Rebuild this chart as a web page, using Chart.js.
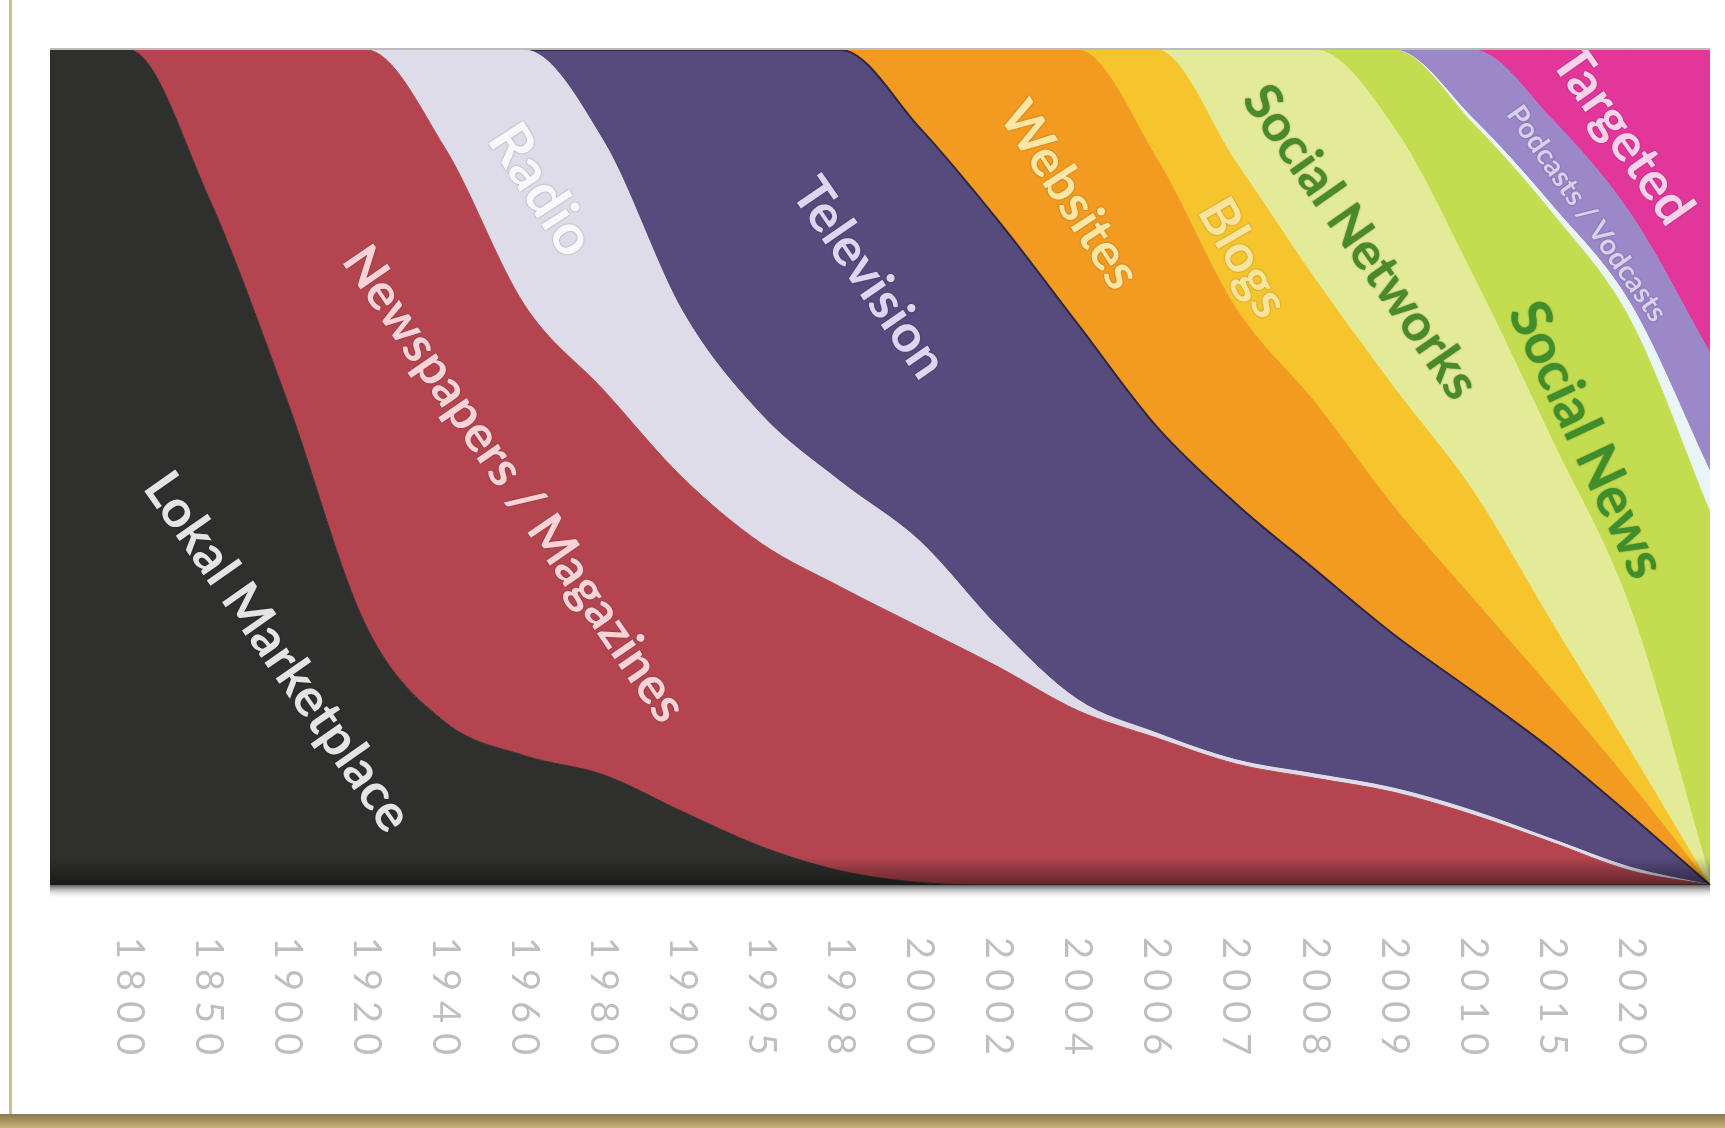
<!DOCTYPE html>
<html>
<head>
<meta charset="utf-8">
<title>Media over time</title>
<script src="https://cdn.jsdelivr.net/npm/chart.js@4.4.0/dist/chart.umd.min.js"></script>
<style>
  html, body { margin: 0; padding: 0; background: #fff; }
  canvas { display: block; }
</style>
</head>
<body>
<canvas id="mediaChart" width="1725" height="1128"></canvas>
<script>
//
// chart data (share in %, stacked). blank categories are the left / right edge of the plot
//
const years = ['', '1800', '1850', '1900', '1920', '1940', '1960', '1980', '1990', '1995', '1998',
  '2000', '2002', '2004', '2006', '2007', '2008', '2009', '2010', '2015', '2020', ''];

const lokalMarketplace = [100, 100, 82.5, 58, 31, 19.5, 15.5, 13.2, 8.8, 4.6, 1.7, 0.3, 0, 0, 0, 0, 0, 0, 0, 0, 0, 0];
const newspapers       = [0, 0, 17.5, 42, 69, 68.7, 54, 46.1, 40, 36.3, 34, 30.6, 26.1, 20.9, 17.6, 14.5, 12.8, 11.1, 8.4, 5.1, 1.7, 0];
const radio            = [0, 0, 0, 0, 0, 11.8, 30.5, 29.8, 19.9, 15.4, 12.6, 10.3, 4.7, 1.3, 0.6, 0.5, 0.5, 0.5, 0.5, 0.4, 0.4, 0];
const television       = [0, 0, 0, 0, 0, 0, 0, 10.9, 31.3, 43.7, 51.7, 49.5, 48.7, 45.0, 36.7, 30.7, 24.5, 18.4, 14.3, 10.7, 6.2, 0];
const websites         = [0, 0, 0, 0, 0, 0, 0, 0, 0, 0, 0, 9.3, 20.5, 32.8, 32.1, 23.4, 20.0, 15.3, 11.1, 7.2, 3.8, 0];
const blogs            = [0, 0, 0, 0, 0, 0, 0, 0, 0, 0, 0, 0, 0, 0, 13, 17.5, 14.8, 14.3, 12.9, 8.0, 3.8, 0];
const socialNetworks   = [0, 0, 0, 0, 0, 0, 0, 0, 0, 0, 0, 0, 0, 0, 0, 13.4, 27.4, 31.1, 25.8, 21.9, 17.0, 0.7];
const socialNews       = [0, 0, 0, 0, 0, 0, 0, 0, 0, 0, 0, 0, 0, 0, 0, 0, 0, 9.3, 18.2, 27.2, 34.6, 43.9];
const otherBand        = [0, 0, 0, 0, 0, 0, 0, 0, 0, 0, 0, 0, 0, 0, 0, 0, 0, 0, 0.6, 0.9, 2.0, 4.9];
const podcasts         = [0, 0, 0, 0, 0, 0, 0, 0, 0, 0, 0, 0, 0, 0, 0, 0, 0, 0, 8.2, 10.3, 10.8, 14.2];
const targeted         = [0, 0, 0, 0, 0, 0, 0, 0, 0, 0, 0, 0, 0, 0, 0, 0, 0, 0, 0, 8.3, 19.7, 36.3];

//
// names written across the bands (x = category index, y = %)
//
const bandNames = [
  {text: 'Lokal Marketplace',      x: 2.88,  y: 27.9, len: 425, angle: 55,   color: '#e4e4e4'},
  {text: 'Newspapers / Magazines', x: 5.87,  y: 48.0, len: 565, angle: 55.5, color: '#f9d3d7'},
  {text: 'Radio',                  x: 6.21,  y: 83.2, len: 145, angle: 57,   color: '#f7f7fc'},
  {text: 'Television',             x: 10.36, y: 72.7, len: 230, angle: 55.5, color: '#ddd5f2'},
  {text: 'Websites',               x: 12.9,  y: 82.6, len: 212, angle: 57,   color: '#fbe6a4'},
  {text: 'Blogs',                  x: 15.09, y: 75.1, len: 128, angle: 60,   color: '#f8e49c'},
  {text: 'Social Networks',        x: 16.58, y: 77.0, len: 370, angle: 55,   color: '#4b8a2b'},
  {text: 'Social News',            x: 19.44, y: 53.3, len: 298, angle: 65,   color: '#3f8e2b'},
  {text: 'Podcasts / Vodcasts',    x: 19.44, y: 80.4, len: 256, angle: 55,   color: '#d8cff1'},
  {text: 'Targeted',               x: 19.89, y: 89.8, len: 205, angle: 55,   color: '#fad3ea'}
];

function band(label, data, color, fill, border) {
  return {
    label: label,
    data: data,
    backgroundColor: color,
    borderColor: border || color,
    borderWidth: border ? 2 : 1,
    fill: fill,
    pointRadius: 0,
    cubicInterpolationMode: 'monotone'
  };
}

const decorations = {
  id: 'decorations',
  beforeDraw(chart) {
    const ctx = chart.ctx;
    ctx.save();
    ctx.fillStyle = '#ffffff';
    ctx.fillRect(0, 0, chart.width, chart.height);
    ctx.restore();
  },
  afterDatasetsDraw(chart) {
    const {ctx, chartArea: a, scales: {x, y}} = chart;
    ctx.save();
    ctx.beginPath();
    ctx.rect(a.left, a.top, a.right - a.left, a.bottom - a.top);
    ctx.clip();
    // band names
    bandNames.forEach(function (n) {
      ctx.save();
      ctx.translate(x.getPixelForValue(n.x), y.getPixelForValue(n.y));
      ctx.rotate(n.angle * Math.PI / 180);
      ctx.font = 'bold 40px Lato';
      const size = 40 * n.len / ctx.measureText(n.text).width;
      ctx.font = 'bold ' + size.toFixed(1) + 'px Lato';
      ctx.textAlign = 'center';
      ctx.textBaseline = 'middle';
      ctx.shadowColor = 'rgba(0,0,0,0.35)';
      ctx.shadowBlur = 2;
      ctx.fillStyle = n.color;
      ctx.fillText(n.text, 0, 0);
      ctx.restore();
    });
    // darker rim along the bottom of the plot
    const g = ctx.createLinearGradient(0, a.bottom - 28, 0, a.bottom);
    g.addColorStop(0, 'rgba(0,0,0,0)');
    g.addColorStop(1, 'rgba(0,0,0,0.45)');
    ctx.fillStyle = g;
    ctx.fillRect(a.left, a.bottom - 28, a.right - a.left, 28);
    ctx.restore();
  },
  afterDraw(chart) {
    const {ctx, chartArea: a, scales: {x}} = chart;
    ctx.save();
    // shadow under the plot
    const s = ctx.createLinearGradient(0, a.bottom, 0, a.bottom + 14);
    s.addColorStop(0, 'rgba(70,70,70,0.85)');
    s.addColorStop(1, 'rgba(255,255,255,0)');
    ctx.fillStyle = s;
    ctx.fillRect(a.left, a.bottom, a.right - a.left, 14);
    // thin line on top of the plot
    ctx.fillStyle = 'rgba(120,120,120,0.5)';
    ctx.fillRect(a.left, a.top - 2, a.right - a.left, 2);
    // year labels, rotated clockwise
    ctx.fillStyle = '#bfbfbf';
    ctx.font = '38px Lato';
    ctx.letterSpacing = '10px';
    ctx.textAlign = 'left';
    ctx.textBaseline = 'middle';
    years.forEach(function (yr, i) {
      if (!yr) return;
      ctx.save();
      ctx.translate(x.getPixelForValue(i), a.bottom + 52);
      ctx.rotate(Math.PI / 2);
      ctx.fillText(yr, 0, 0);
      ctx.restore();
    });
    ctx.letterSpacing = '0px';
    // frame bits
    ctx.fillStyle = '#cbbd97';
    ctx.fillRect(9, 0, 3, 1116);
    const b = ctx.createLinearGradient(0, 1114, 0, 1128);
    b.addColorStop(0, '#8c7a4c');
    b.addColorStop(1, '#c9b27a');
    ctx.fillStyle = b;
    ctx.fillRect(0, 1114, chart.width, 14);
    ctx.restore();
  }
};

const mediaChart = new Chart('mediaChart', {
  type: 'line',
  data: {
    labels: years,
    datasets: [
      band('Lokal Marketplace', lokalMarketplace, '#2f302e', 'origin'),
      band('Newspapers / Magazines', newspapers, '#b4454f', '-1'),
      band('Radio', radio, '#dedce9', '-1'),
      band('Television', television, '#574a7d', '-1', '#2e2742'),
      band('Websites', websites, '#f39a20', '-1'),
      band('Blogs', blogs, '#f6c42c', '-1'),
      band('Social Networks', socialNetworks, '#e3eb98', '-1'),
      band('Social News', socialNews, '#c4dd50', '-1'),
      band('Other', otherBand, '#e8f4f5', '-1'),
      band('Podcasts / Vodcasts', podcasts, '#9b88c8', '-1'),
      band('Targeted', targeted, '#e2369b', '-1')
    ]
  },
  options: {
    responsive: false,
    devicePixelRatio: 1,
    animation: false,
    layout: {padding: {left: 50, right: 15, top: 50, bottom: 243}},
    plugins: {
      legend: {display: false},
      tooltip: {enabled: false}
    },
    scales: {
      x: {type: 'category', offset: false, display: false},
      y: {stacked: true, min: 0, max: 100, display: false}
    }
  },
  plugins: [decorations]
});
</script>
</body>
</html>
